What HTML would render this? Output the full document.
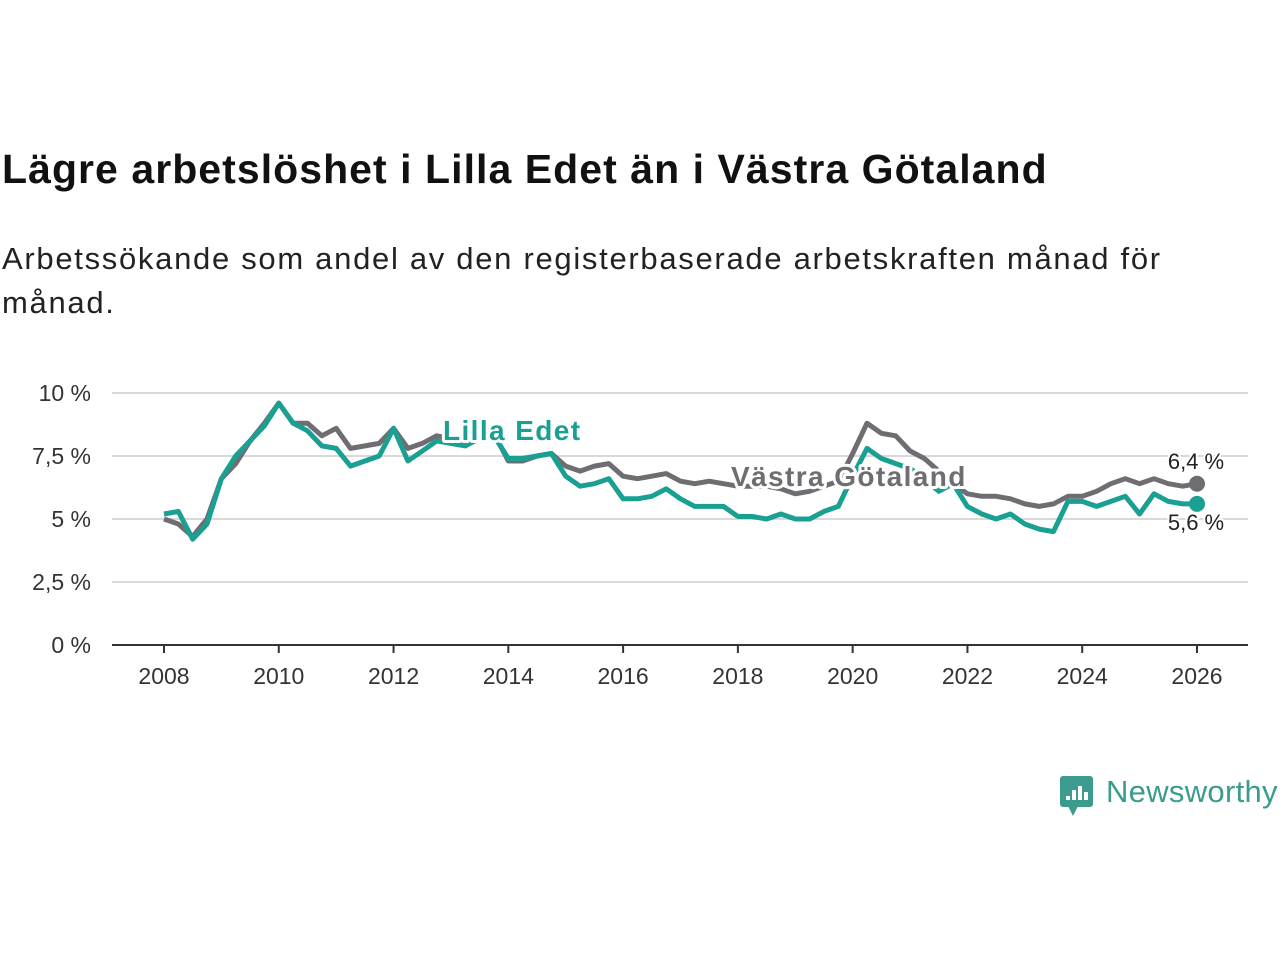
<!DOCTYPE html>
<html><head><meta charset="utf-8"><style>
body{margin:0;background:#fff;font-family:"Liberation Sans","DejaVu Sans",sans-serif;}
#wrap{position:relative;width:1280px;height:960px;overflow:hidden}
h1{position:absolute;left:2px;top:146px;margin:0;font-size:41px;font-weight:bold;color:#111;letter-spacing:1.05px}
p.sub{position:absolute;left:2px;top:237px;margin:0;font-size:31px;line-height:44px;color:#222;width:1200px;letter-spacing:1.7px}
svg{position:absolute;left:0;top:0}
</style></head><body><div id="wrap">
<h1>Lägre arbetslöshet i Lilla Edet än i Västra Götaland</h1>
<p class="sub">Arbetssökande som andel av den registerbaserade arbetskraften månad för månad.</p>
<svg id="chart" width="1280" height="960"></svg>
</div>
<script>
const yTicks=[0,2.5,5,7.5,10];
const yTickLabels=["0 %","2,5 %","5 %","7,5 %","10 %"];
const xTicks=[2008,2010,2012,2014,2016,2018,2020,2022,2024,2026];
const startYear=2008, step=0.25;
const vastraGotaland=[5.0,4.8,4.3,5.0, 6.6,7.2,8.1,8.8, 9.6,8.8,8.8,8.3, 8.6,7.8,7.9,8.0, 8.6,7.8,8.0,8.3, 8.2,8.1,8.3,8.4, 7.3,7.3,7.5,7.6, 7.1,6.9,7.1,7.2, 6.7,6.6,6.7,6.8, 6.5,6.4,6.5,6.4, 6.3,6.3,6.3,6.2, 6.0,6.1,6.3,6.5, 7.6,8.8,8.4,8.3, 7.7,7.4,6.9,6.4, 6.0,5.9,5.9,5.8, 5.6,5.5,5.6,5.9, 5.9,6.1,6.4,6.6, 6.4,6.6,6.4,6.3, 6.4];
const lillaEdet=[5.2,5.3,4.2,4.8, 6.6,7.5,8.1,8.7, 9.6,8.8,8.5,7.9, 7.8,7.1,7.3,7.5, 8.6,7.3,7.7,8.1, 8.0,7.9,8.2,8.3, 7.4,7.4,7.5,7.6, 6.7,6.3,6.4,6.6, 5.8,5.8,5.9,6.2, 5.8,5.5,5.5,5.5, 5.1,5.1,5.0,5.2, 5.0,5.0,5.3,5.5, 6.7,7.8,7.4,7.2, 7.0,6.6,6.1,6.4, 5.5,5.2,5.0,5.2, 4.8,4.6,4.5,5.7, 5.7,5.5,5.7,5.9, 5.2,6.0,5.7,5.6, 5.6];
const lastLabels=["6,4 %","5,6 %"];

const NS="http://www.w3.org/2000/svg";
const svg=document.getElementById('chart');
const X=y=>164+(y-2008)*(1197-164)/18;
const Y=v=>645-v*25.2;
function mk(t,a){const e=document.createElementNS(NS,t);for(const k in a)e.setAttribute(k,a[k]);svg.appendChild(e);return e;}
yTicks.forEach((v,i)=>{
  if(v>0){const g=mk('line',{x1:112,x2:1248,y1:Y(v),y2:Y(v),stroke:'#d9d9d9','stroke-width':2});
  
  }
  const t=mk('text',{x:91,y:Y(v)+8,'text-anchor':'end','font-size':23,fill:'#333'});t.textContent=yTickLabels[i];
  
  
});
const ax=mk('line',{x1:112,x2:1248,y1:645,y2:645,stroke:'#333','stroke-width':2});


xTicks.forEach(yr=>{
  const tk=mk('line',{x1:X(yr),x2:X(yr),y1:645,y2:653,stroke:'#333','stroke-width':2});
  
  
  const t=mk('text',{x:X(yr),y:684,'text-anchor':'middle','font-size':23,fill:'#333'});t.textContent=yr;
  
  
});
function series(arr,col,name){
  const d=arr.map((v,i)=>(i?'L':'M')+X(startYear+i*step).toFixed(1)+' '+Y(v).toFixed(1)).join(' ');
  const p=mk('path',{d:d,fill:'none',stroke:col,'stroke-width':5,'stroke-linejoin':'round'});
  
  
  const last=arr.length-1;
  const c=mk('circle',{cx:X(startYear+last*step),cy:Y(arr[last]),r:8,fill:col});
  
  
}
series(vastraGotaland,'#6f6d72','vastra-gotaland-line');
series(lillaEdet,'#19a092','lilla-edet-line');
function label(txt,x,y,col,name){
  const t=mk('text',{x:x,y:y,'font-size':28,'font-weight':'bold','letter-spacing':1.4,fill:col,stroke:'#fff','stroke-width':6,'paint-order':'stroke','stroke-linejoin':'round'});
  t.textContent=txt;
  
  
}
label('Lilla Edet',443,440,'#19a092','lilla-edet-label');
label('Västra Götaland',731,486,'#6f6d72','vastra-gotaland-label');
[[lastLabels[0],469],[lastLabels[1],530]].forEach((a,i)=>{
  const t=mk('text',{x:1196,y:a[1],'text-anchor':'middle','font-size':22,fill:'#222',stroke:'#fff','stroke-width':4,'paint-order':'stroke'});
  t.textContent=a[0];
  
  
});
const lg=mk('rect',{x:1060,y:776,width:33,height:31,rx:3,fill:'#3a9b8e'});


mk('polygon',{points:'1068,806 1078,806 1073,816',fill:'#3a9b8e'});
[[1066,796,4],[1072,790,10],[1078,786,14],[1084,792,8]].forEach(b=>mk('rect',{x:b[0],y:b[1],width:4,height:b[2],fill:'#fff'}));
const lt=mk('text',{x:1106,y:802,'font-size':31,fill:'#3a9b8e','letter-spacing':0.3});lt.textContent='Newsworthy';


</script></body></html>
